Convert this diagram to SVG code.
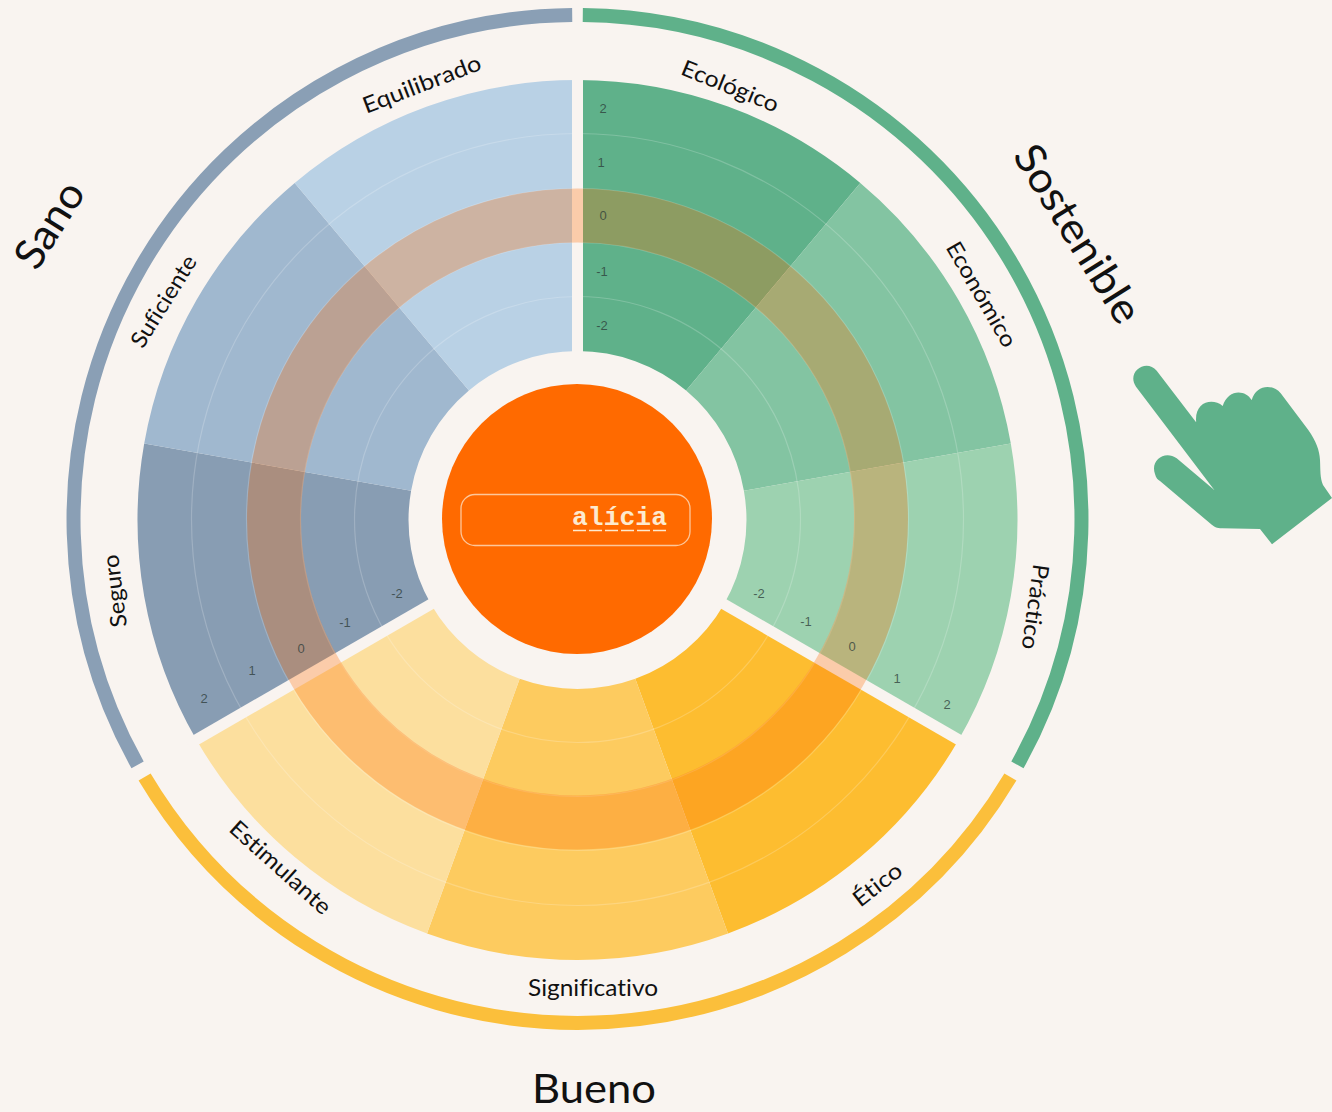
<svg xmlns="http://www.w3.org/2000/svg" width="1332" height="1112" viewBox="0 0 1332 1112">
<style>
.lb{font-family:Lato,"Open Sans","Liberation Sans",sans-serif;fill:#111;text-anchor:middle;dominant-baseline:central;font-size:22.5px;font-variant-ligatures:none}
.big{font-size:42px}
.n{font-family:"Liberation Sans",Arial,sans-serif;font-size:13px;fill:#2b3a38;fill-opacity:.75;text-anchor:middle;dominant-baseline:central}
.ring{fill:none;stroke-width:14}
.gap{stroke:#f9f4f0;stroke-width:11}
.tick{fill:none;stroke:#fff;stroke-opacity:.2;stroke-width:1.2}
</style>
<rect width="1332" height="1112" fill="#f9f4f0"/>
<g id="sectors" transform="translate(0 .5)">
<g id="ecologico"><path fill="#5fb18a" d="M577.5 79.5A440 440 0 0 1 860.3 182.5L686.1 390A169 169 0 0 0 577.5 350.5Z"/></g>
<g id="economico"><path fill="#83c4a2" d="M860.3 182.5A440 440 0 0 1 1010.8 443.1L743.9 490.2A169 169 0 0 0 686.1 390Z"/></g>
<g id="practico"><path fill="#9dd2b0" d="M1010.8 443.1A440 440 0 0 1 958.5 739.5L723.9 604A169 169 0 0 0 743.9 490.2Z"/></g>
<g id="etico"><path fill="#fdbd30" d="M958.5 739.5A440 440 0 0 1 728 933L635.3 678.3A169 169 0 0 0 723.9 604Z"/></g>
<g id="significativo"><path fill="#fdcb5f" d="M728 933A440 440 0 0 1 427 933L519.7 678.3A169 169 0 0 0 635.3 678.3Z"/></g>
<g id="estimulante"><path fill="#fcdf9e" d="M427 933A440 440 0 0 1 196.5 739.5L431.1 604A169 169 0 0 0 519.7 678.3Z"/></g>
<g id="seguro"><path fill="#889db3" d="M196.5 739.5A440 440 0 0 1 144.2 443.1L411.1 490.2A169 169 0 0 0 431.1 604Z"/></g>
<g id="suficiente"><path fill="#a0b8cf" d="M144.2 443.1A440 440 0 0 1 294.7 182.5L468.9 390A169 169 0 0 0 411.1 490.2Z"/></g>
<g id="equilibrado"><path fill="#b9d1e5" d="M294.7 182.5A440 440 0 0 1 577.5 79.5V350.5A169 169 0 0 0 468.9 390Z"/></g>
</g>
<g id="scale-lines">
<circle class="tick" cx="577.5" cy="519.5" r="386"/>
<circle class="tick" cx="577.5" cy="519.5" r="331"/>
<circle class="tick" cx="577.5" cy="519.5" r="277"/>
<circle class="tick" cx="577.5" cy="519.5" r="223"/>
</g>
<g id="connectors">
<line class="gap" x1="577.5" y1="519.5" x2="577.5" y2="70"/>
<line class="gap" x1="577.5" y1="519.5" x2="967" y2="744.5"/>
<line class="gap" x1="577.5" y1="519.5" x2="188" y2="744.5"/>
</g>
<g id="scale">
<circle id="band-zero" cx="577.5" cy="519" r="303.5" fill="none" stroke="#ff6a00" stroke-opacity=".29" stroke-width="54"/>
<text class="n" x="603" y="108">2</text><text class="n" x="601" y="162">1</text><text class="n" x="603" y="215">0</text><text class="n" x="602" y="271">-1</text><text class="n" x="602" y="325">-2</text>
<text class="n" x="947" y="704">2</text><text class="n" x="897" y="678">1</text><text class="n" x="852" y="646">0</text><text class="n" x="806" y="621">-1</text><text class="n" x="759" y="593">-2</text>
<text class="n" x="204" y="698">2</text><text class="n" x="252" y="670">1</text><text class="n" x="301" y="648">0</text><text class="n" x="345" y="622">-1</text><text class="n" x="397" y="593">-2</text>
</g>
<g id="rings">
<path id="ring-sostenible" class="ring" stroke="#5fb18a" d="M582.8 15A504 504 0 0 1 1017.4 764.9"/>
<path id="ring-bueno" class="ring" stroke="#fbbf3b" d="M1010.4 777A504 504 0 0 1 144.6 777"/>
<path id="ring-sano" class="ring" stroke="#8a9fb5" d="M137.6 764.9A504 504 0 0 1 572.2 15"/>
</g>
<g id="logo">
<circle cx="577" cy="519" r="135" fill="#ff6a00"/>
<rect x="461" y="494.5" width="229" height="51" rx="14" fill="none" stroke="#fdc79a" stroke-width="1.3"/>
<text x="572" y="525" font-family="Liberation Mono,monospace" font-weight="700" font-size="26" fill="#fdeacf" textLength="95" lengthAdjust="spacingAndGlyphs">alícia</text>
<line x1="573" y1="530.5" x2="667" y2="530.5" stroke="#fdeacf" stroke-width="1.6" stroke-dasharray="13 3"/>
</g>
<g id="labels">
<text class="lb" transform="translate(421.5 83.5) rotate(-21)" textLength="125" lengthAdjust="spacingAndGlyphs">Equilibrado</text>
<text class="lb" transform="translate(730.5 85.5) rotate(22)" textLength="103" lengthAdjust="spacingAndGlyphs">Ecológico</text>
<text class="lb" transform="translate(982 294) rotate(60)" textLength="118" lengthAdjust="spacingAndGlyphs">Económico</text>
<text class="lb" transform="translate(1036 607) rotate(98)" textLength="86" lengthAdjust="spacingAndGlyphs">Práctico</text>
<text class="lb" transform="translate(877 884) rotate(-38)" textLength="56" lengthAdjust="spacingAndGlyphs">Ético</text>
<text class="lb" x="593" y="987" textLength="130" lengthAdjust="spacingAndGlyphs">Significativo</text>
<text class="lb" transform="translate(281 867) rotate(42)" textLength="128" lengthAdjust="spacingAndGlyphs">Estimulante</text>
<text class="lb" transform="translate(114 591) rotate(-97)" textLength="73" lengthAdjust="spacingAndGlyphs">Seguro</text>
<text class="lb" transform="translate(163 301) rotate(-58)" textLength="104" lengthAdjust="spacingAndGlyphs">Suficiente</text>
<text class="lb big" transform="translate(48 224) rotate(-58)" textLength="94" lengthAdjust="spacingAndGlyphs">Sano</text>
<text class="lb big" transform="translate(1079 233) rotate(58)" textLength="202" lengthAdjust="spacingAndGlyphs">Sostenible</text>
<text class="lb big" x="594" y="1103" style="font-size:41px;dominant-baseline:auto" textLength="124" lengthAdjust="spacingAndGlyphs">Bueno</text>
</g>
<g id="hand">
<path fill="#5fb18a" d="M1136 386.7L1214.3 490L1176.7 458.3C1165 450 1150 460 1155 474C1156 478 1158 480 1160 481L1210 523.3C1214 527 1217 528.3 1222 528.3L1260 529L1272 544.3L1332 498L1323 485C1320 478 1320.5 470 1320 460C1319.5 450 1316 441 1308.3 430L1280.7 393.3C1272 383 1256 385 1251.7 400C1245 389 1228 389 1222.7 406C1212 397 1192 402 1196.7 426L1199 426L1156.7 370.7C1146 358 1126 372 1136 386.7Z"/>
</g>
</svg>
